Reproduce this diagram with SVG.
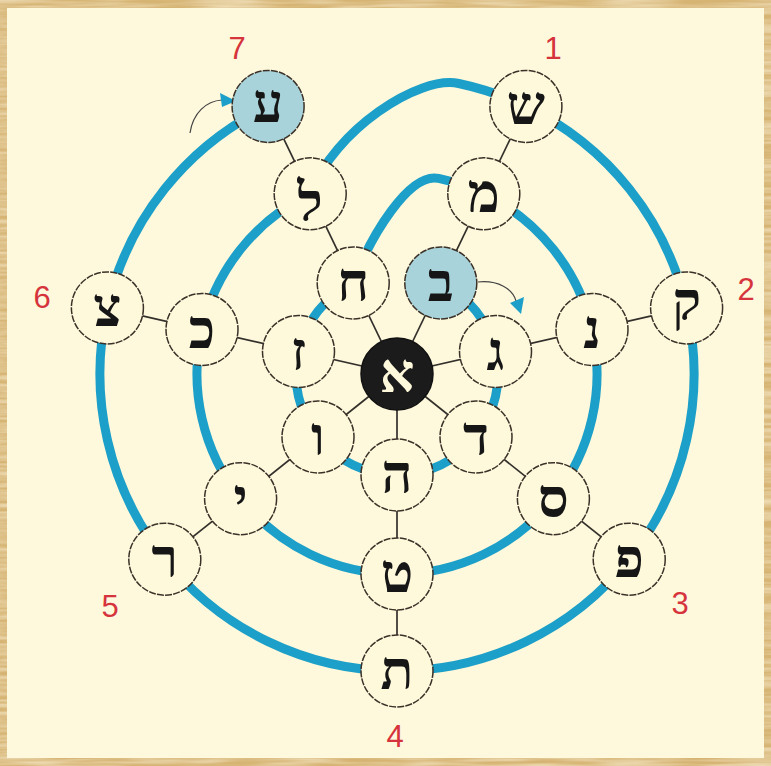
<svg xmlns="http://www.w3.org/2000/svg" width="771" height="766" viewBox="0 0 771 766">
<defs>
<style>
.spoke{stroke:#33302c;stroke-width:1.7}
.spiral{fill:none;stroke:#1c9fc8;stroke-width:9;stroke-linejoin:round;stroke-linecap:butt}
.node circle{fill:#fff9dc;stroke:#3b3128;stroke-width:1.5;stroke-dasharray:7 1.2}
.hl circle{fill:#a8d3db}
.letter{font-family:"Liberation Serif","DejaVu Sans",serif;font-weight:bold;font-size:54px;text-anchor:middle;fill:#161616}
.num{font-family:"Liberation Sans",Arial,sans-serif;font-size:31px;fill:#d6343c;text-anchor:middle}
.thin{fill:none;stroke:#444;stroke-width:1.2}
.head{fill:#1c9fc8}
</style>
<filter id="tex" x="0" y="0" width="100%" height="100%">
<feTurbulence type="fractalNoise" baseFrequency="0.015 0.25" numOctaves="2" seed="4"/>
<feColorMatrix type="matrix" values="0 0 0 0 0.95  0 0 0 0 0.86  0 0 0 0 0.66  1.2 0 0 0 -0.35"/>
</filter>
</defs>
<rect x="0" y="0" width="771" height="766" fill="#d6b473"/>
<rect x="0" y="0" width="771" height="766" filter="url(#tex)"/>
<rect x="7" y="8" width="757" height="750" fill="#fef9dc"/>

<g id="spokes">
<line class="spoke" x1="397" y1="374" x2="525.9" y2="106.4"/>
<line class="spoke" x1="397" y1="374" x2="686.6" y2="307.9"/>
<line class="spoke" x1="397" y1="374" x2="629.2" y2="559.2"/>
<line class="spoke" x1="397" y1="374" x2="397" y2="671"/>
<line class="spoke" x1="397" y1="374" x2="164.8" y2="559.2"/>
<line class="spoke" x1="397" y1="374" x2="107.4" y2="307.9"/>
<line class="spoke" x1="397" y1="374" x2="268.1" y2="106.4"/>
</g>

<g id="connectors">
<path class="spiral" d="M440.8 283 A101 101 0 0 1 495.5 351.5 A101 101 0 0 1 476 437 A101 101 0 0 1 397 475 A101 101 0 0 1 318 437 A101 101 0 0 1 298.5 351.5 A101 101 0 0 1 353.2 283 C370.3 236 409.3 172.2 438.6 178.4 A200 200 0 0 1 483.8 193.8 A200 200 0 0 1 592 329.5 A200 200 0 0 1 553.4 498.7 A200 200 0 0 1 397 574 A200 200 0 0 1 240.6 498.7 A200 200 0 0 1 202 329.5 A200 200 0 0 1 310.2 193.8 C334.5 130.3 418.6 75 458.75 83.5 A297 297 0 0 1 525.9 106.4 A297 297 0 0 1 686.6 307.9 A297 297 0 0 1 629.2 559.2 A297 297 0 0 1 397 671 A297 297 0 0 1 164.8 559.2 A297 297 0 0 1 107.4 307.9 A297 297 0 0 1 268.1 106.4"/>
<path class="thin" d="M190 133 C193 113 206 101 222 100"/>
<polygon class="head" points="220,93 222,107 236,101"/>
<path class="thin" d="M478 282 C498 280 513 289 516 301"/>
<polygon class="head" points="510,303 524,297 521,314"/>
</g>

<g id="n-alef"><circle cx="397" cy="374" r="36" fill="#1b1b1b" stroke="#111" stroke-width="1.5"/><text class="letter" x="397" y="392" style="fill:#fff9dc">א</text></g>

<g id="n-bet" class="node hl"><circle cx="440.8" cy="283" r="36"/><text class="letter" x="440.8" y="301">ב</text></g>
<g id="n-gimel" class="node"><circle cx="495.5" cy="351.5" r="36"/><text class="letter" x="495.5" y="369.5">ג</text></g>
<g id="n-dalet" class="node"><circle cx="476" cy="437" r="36"/><text class="letter" x="476" y="455">ד</text></g>
<g id="n-he" class="node"><circle cx="397" cy="475" r="36"/><text class="letter" x="397" y="493">ה</text></g>
<g id="n-vav" class="node"><circle cx="318" cy="437" r="36"/><text class="letter" x="318" y="455">ו</text></g>
<g id="n-zayin" class="node"><circle cx="298.5" cy="351.5" r="36"/><text class="letter" x="298.5" y="369.5">ז</text></g>
<g id="n-chet" class="node"><circle cx="353.2" cy="283" r="36"/><text class="letter" x="353.2" y="301">ח</text></g>

<g id="n-mem" class="node"><circle cx="483.8" cy="193.8" r="36"/><text class="letter" x="483.8" y="211.8">מ</text></g>
<g id="n-nun" class="node"><circle cx="592" cy="329.5" r="36"/><text class="letter" x="592" y="347.5">נ</text></g>
<g id="n-samekh" class="node"><circle cx="553.4" cy="498.7" r="36"/><text class="letter" x="553.4" y="516.7">ס</text></g>
<g id="n-tet" class="node"><circle cx="397" cy="574" r="36"/><text class="letter" x="397" y="592">ט</text></g>
<g id="n-yod" class="node"><circle cx="240.6" cy="498.7" r="36"/><text class="letter" x="240.6" y="516.7">י</text></g>
<g id="n-kaf" class="node"><circle cx="202" cy="329.5" r="36"/><text class="letter" x="202" y="347.5">כ</text></g>
<g id="n-lamed" class="node"><circle cx="310.2" cy="193.8" r="36"/><text class="letter" x="310.2" y="221">ל</text></g>

<g id="n-shin" class="node"><circle cx="525.9" cy="106.4" r="36"/><text class="letter" x="525.9" y="124.4">ש</text></g>
<g id="n-qof" class="node"><circle cx="686.6" cy="307.9" r="36"/><text class="letter" x="686.6" y="320">ק</text></g>
<g id="n-pe" class="node"><circle cx="629.2" cy="559.2" r="36"/><text class="letter" x="629.2" y="577.2">פ</text></g>
<g id="n-tav" class="node"><circle cx="397" cy="671" r="36"/><text class="letter" x="397" y="689">ת</text></g>
<g id="n-resh" class="node"><circle cx="164.8" cy="559.2" r="36"/><text class="letter" x="164.8" y="577.2">ר</text></g>
<g id="n-tsadi" class="node"><circle cx="107.4" cy="307.9" r="36"/><text class="letter" x="107.4" y="325.9">צ</text></g>
<g id="n-ayin" class="node hl"><circle cx="268.1" cy="106.4" r="36"/><text class="letter" x="268.1" y="122">ע</text></g>

<g id="labels">
<text class="num" x="553" y="59">1</text>
<text class="num" x="746" y="300">2</text>
<text class="num" x="680" y="614">3</text>
<text class="num" x="395" y="747">4</text>
<text class="num" x="110" y="617">5</text>
<text class="num" x="42" y="308">6</text>
<text class="num" x="237" y="59">7</text>
</g>
</svg>
